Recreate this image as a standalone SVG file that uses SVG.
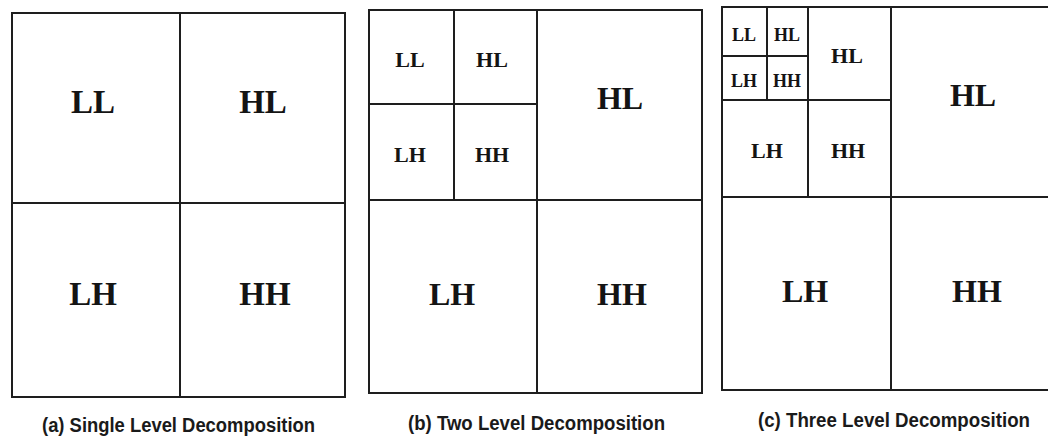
<svg xmlns="http://www.w3.org/2000/svg" width="1048" height="441" viewBox="0 0 1048 441">
<style>
.c{fill:#ffffff;stroke:#1e1e1e;stroke-width:2}
.t{font-family:"Liberation Serif","Times New Roman",serif;font-weight:bold;fill:#141414;text-anchor:middle}
.xl{font-size:33px}
.l{font-size:32px}
.m{font-size:22px}
.s{font-size:18px}
.cap{font-family:"Liberation Sans Narrow","Liberation Sans",Arial,sans-serif;font-weight:bold;font-size:20px;fill:#1a1a1a}
</style>
<rect width="1048" height="441" fill="#ffffff"/>
<g id="panel-a">
<g id="a-LL"><rect class="c" x="12" y="13" width="168" height="190"/><text class="t xl" x="93" y="113">LL</text></g>
<g id="a-HL"><rect class="c" x="180" y="13" width="165" height="190"/><text class="t xl" x="263" y="113">HL</text></g>
<g id="a-LH"><rect class="c" x="12" y="203" width="168" height="194"/><text class="t xl" x="93" y="305">LH</text></g>
<g id="a-HH"><rect class="c" x="180" y="203" width="165" height="194"/><text class="t xl" x="265" y="305">HH</text></g>
<text id="a-caption" class="cap" x="42" y="432" textLength="273" lengthAdjust="spacingAndGlyphs">(a) Single Level Decomposition</text>
</g>
<g id="panel-b">
<g id="b-LL2"><rect class="c" x="369" y="10" width="85" height="94"/><text class="t m" x="410" y="67">LL</text></g>
<g id="b-HL2"><rect class="c" x="454" y="10" width="83" height="94"/><text class="t m" x="492" y="67">HL</text></g>
<g id="b-LH2"><rect class="c" x="369" y="104" width="85" height="96"/><text class="t m" x="410" y="162">LH</text></g>
<g id="b-HH2"><rect class="c" x="454" y="104" width="83" height="96"/><text class="t m" x="492" y="162">HH</text></g>
<g id="b-HL"><rect class="c" x="537" y="10" width="165" height="190"/><text class="t l" x="620" y="109">HL</text></g>
<g id="b-LH"><rect class="c" x="369" y="200" width="168" height="193" fill="#fdf7fa"/><text class="t l" x="452" y="305">LH</text></g>
<g id="b-HH"><rect class="c" x="537" y="200" width="165" height="193"/><text class="t l" x="622" y="305">HH</text></g>
<text id="b-caption" class="cap" x="408" y="430" textLength="257" lengthAdjust="spacingAndGlyphs">(b) Two Level Decomposition</text>
</g>
<g id="panel-c">
<g id="c-LL3"><rect class="c" x="722" y="7" width="45" height="49"/><text class="t s" x="744" y="41">LL</text></g>
<g id="c-HL3"><rect class="c" x="767" y="7" width="41" height="49"/><text class="t s" x="787" y="41">HL</text></g>
<g id="c-LH3"><rect class="c" x="722" y="56" width="45" height="44"/><text class="t s" x="744" y="87">LH</text></g>
<g id="c-HH3"><rect class="c" x="767" y="56" width="41" height="44"/><text class="t s" x="787" y="87">HH</text></g>
<g id="c-HL2"><rect class="c" x="808" y="7" width="83" height="93"/><text class="t m" x="847" y="63">HL</text></g>
<g id="c-LH2"><rect class="c" x="722" y="100" width="86" height="97"/><text class="t m" x="767" y="158">LH</text></g>
<g id="c-HH2"><rect class="c" x="808" y="100" width="83" height="97"/><text class="t m" x="848" y="158">HH</text></g>
<g id="c-HL"><rect class="c" x="891" y="7" width="162" height="190"/><text class="t l" x="973" y="106">HL</text></g>
<g id="c-LH"><rect class="c" x="722" y="197" width="169" height="193"/><text class="t l" x="805" y="302">LH</text></g>
<g id="c-HH"><rect class="c" x="891" y="197" width="162" height="193"/><text class="t l" x="977" y="302">HH</text></g>
<text id="c-caption" class="cap" x="758" y="427" textLength="272" lengthAdjust="spacingAndGlyphs">(c) Three Level Decomposition</text>
</g>
<g id="connectors"/>
</svg>
